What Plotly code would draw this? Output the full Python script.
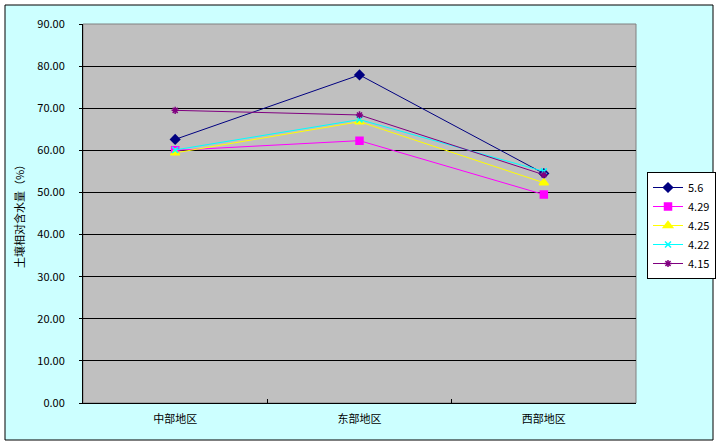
import plotly.graph_objects as go

categories = ["中部地区", "东部地区", "西部地区"]
series_names = ["5.6", "4.29", "4.25", "4.22", "4.15"]
s_5_6 = [62.6, 77.9, 54.5]
s_4_29 = [60.0, 62.3, 49.5]
s_4_25 = [59.4, 66.8, 52.3]
s_4_22 = [60.1, 67.3, 55.0]
s_4_15 = [69.5, 68.4, 54.2]
y_title = "土壤相对含水量（%）"

values = [s_5_6, s_4_29, s_4_25, s_4_22, s_4_15]
colors = ["#000080", "#FF00FF", "#FFFF00", "#00FFFF", "#800080"]
symbols = ["diamond", "square", "triangle-up", "x-thin-open", "asterisk-open"]
sizes = [7, 7, 8, 6, 6]

W, H = 720, 446
L, R, T, B = 83, 636, 24, 403
pw, ph = R - L, B - T

def px_x(x):
    return (x - L) / pw

def px_y(y):
    return (B - y) / ph

font = "SimSun, 'Noto Sans CJK SC', sans-serif"

fig = go.Figure()
for name, vals, c, sym, sz in zip(series_names, values, colors, symbols, sizes):
    fig.add_trace(go.Scatter(
        x=categories, y=vals, name=name, mode="lines+markers",
        line=dict(color=c, width=1),
        marker=dict(color=c, symbol=sym, size=sz, line=dict(color=c, width=1.5)),
    ))

fig.update_layout(
    width=W, height=H,
    margin=dict(l=L, r=W - R, t=T, b=H - B, pad=0, autoexpand=False),
    paper_bgcolor="white",
    plot_bgcolor="#C0C0C0",
    font=dict(family=font, size=10, color="black"),
    showlegend=True,
    legend=dict(
        x=px_x(647), y=px_y(172), xanchor="left", yanchor="top",
        bgcolor="white", bordercolor="black", borderwidth=1,
        font=dict(size=11, family=font),
        tracegroupgap=0, itemwidth=30,
    ),
    shapes=[
        dict(type="rect", xref="paper", yref="paper", layer="below",
             x0=px_x(5), x1=px_x(713), y0=px_y(440), y1=px_y(5),
             fillcolor="#CCFFFF", line=dict(color="black", width=1)),
        dict(type="rect", xref="paper", yref="paper", layer="below",
             x0=0, x1=1, y0=0, y1=1,
             fillcolor="#C0C0C0", line=dict(color="#808080", width=1)),
    ],
)

fig.update_xaxes(
    type="category", range=[-0.5, 2.5],
    showline=True, linecolor="black", linewidth=1,
    ticks="inside", ticklen=4, tickcolor="black", tickson="boundaries",
    showgrid=False, zeroline=False, automargin=False,
    ticklabelstandoff=6,
    tickfont=dict(size=11, family=font),
)
fig.update_yaxes(
    range=[0, 90], dtick=10, tickformat=".2f",
    showline=True, linecolor="black", linewidth=1,
    ticks="outside", ticklen=3, tickcolor="black",
    showgrid=True, gridcolor="black", gridwidth=1,
    zeroline=False, automargin=False,
    ticklabelstandoff=12,
    tickfont=dict(size=11, family=font),
    title=dict(text=y_title, font=dict(size=11, family=font), standoff=10),
)

fig.write_html("out.html", config={"displayModeBar": False},
               post_script="document.body.style.margin='0';")
